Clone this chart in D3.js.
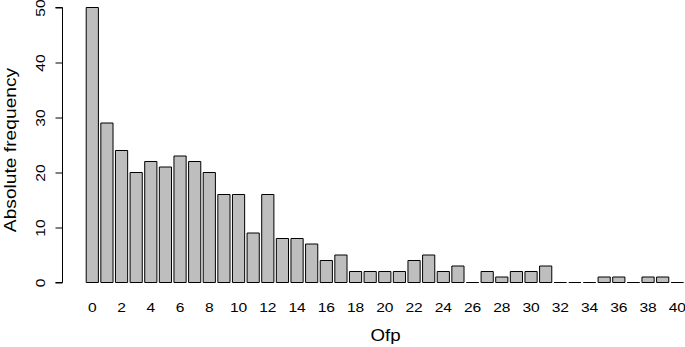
<!DOCTYPE html>
<html>
<head>
<meta charset="utf-8">
<script src="https://cdn.jsdelivr.net/npm/d3@7"></script>
<style>
  body { margin: 0; background: #fff; }
  text { font-family: "Liberation Sans", Arial, sans-serif; fill: #000; }
</style>
</head>
<body>
<div id="chart"></div>
<script>
// Ofp values and their counts
const ofp = d3.range(0, 41);
const counts = [50, 29, 24, 20, 22, 21, 23, 22, 20, 16,
                16, 9, 16, 8, 8, 7, 4, 5, 2, 2,
                2, 2, 4, 5, 2, 3, 0, 2, 1, 2,
                2, 3, 0, 0, 0, 1, 1, 0, 1, 1, 0];
const yTicks = [0, 10, 20, 30, 40, 50];
const xTickLabels = ofp.filter(d => d % 2 === 0);

const width = 685, height = 347;
const sx = 1.2; // the reference text is a bit wider than Liberation Sans

let svg = d3.select("#chart")
  .append("svg")
  .attr("width", width)
  .attr("height", height);

// bar centres: 0 -> 92, 40 -> 677
let x = d3.scaleLinear().domain([0, 40]).range([92.3, 677.3]);
let bw = (x(1) - x(0)) / 1.2;

let y = d3.scaleLinear().domain([0, 50]).range([282.5, 7.5]);

// paths instead of rects so that empty classes still show a line
svg.append("g")
   .selectAll("path")
   .data(counts)
   .enter()
   .append("path")
   .attr("d", (d, i) => {
      let x0 = x(ofp[i]) - bw / 2, x1 = x(ofp[i]) + bw / 2;
      return `M${x0},${y(0)}V${y(d)}H${x1}V${y(0)}Z`;
   })
   .attr("fill", "#bebebe")
   .attr("stroke", "#000")
   .attr("stroke-width", 1);

// y axis
let yAxis = svg.append("g")
  .attr("transform", "translate(62.5,0)")
  .call(d3.axisLeft(y).tickValues(yTicks).tickSize(7).tickFormat(d3.format("d")));
yAxis.select(".domain").attr("stroke", "#000").attr("d", `M-7,${y(0)}H0V${y(50)}H-7`);
yAxis.selectAll(".tick line").attr("stroke", "#000");
yAxis.selectAll(".tick text")
  .attr("x", 0).attr("dy", null).attr("y", 0)
  .attr("text-anchor", "middle")
  .attr("font-size", 13)
  .attr("font-family", "Liberation Sans, Arial, sans-serif")
  .attr("transform", `translate(-17.5,0) rotate(-90) scale(${sx},1)`);

// x labels (no axis line, like R barplot)
svg.append("g")
   .selectAll("text")
   .data(xTickLabels)
   .enter()
   .append("text")
   .attr("transform", d => `translate(${x(d)},312) scale(${sx},1)`)
   .attr("text-anchor", "middle")
   .attr("font-size", 13)
   .text(d => d);

svg.append("text")
   .attr("transform", "translate(385.5,340.5) scale(1.1,1)")
   .attr("text-anchor", "middle")
   .attr("font-size", 17)
   .text("Ofp");

svg.append("text")
   .attr("transform", "translate(15.5,150) rotate(-90) scale(1.13,1)")
   .attr("text-anchor", "middle")
   .attr("font-size", 17)
   .text("Absolute frequency");
</script>
</body>
</html>
